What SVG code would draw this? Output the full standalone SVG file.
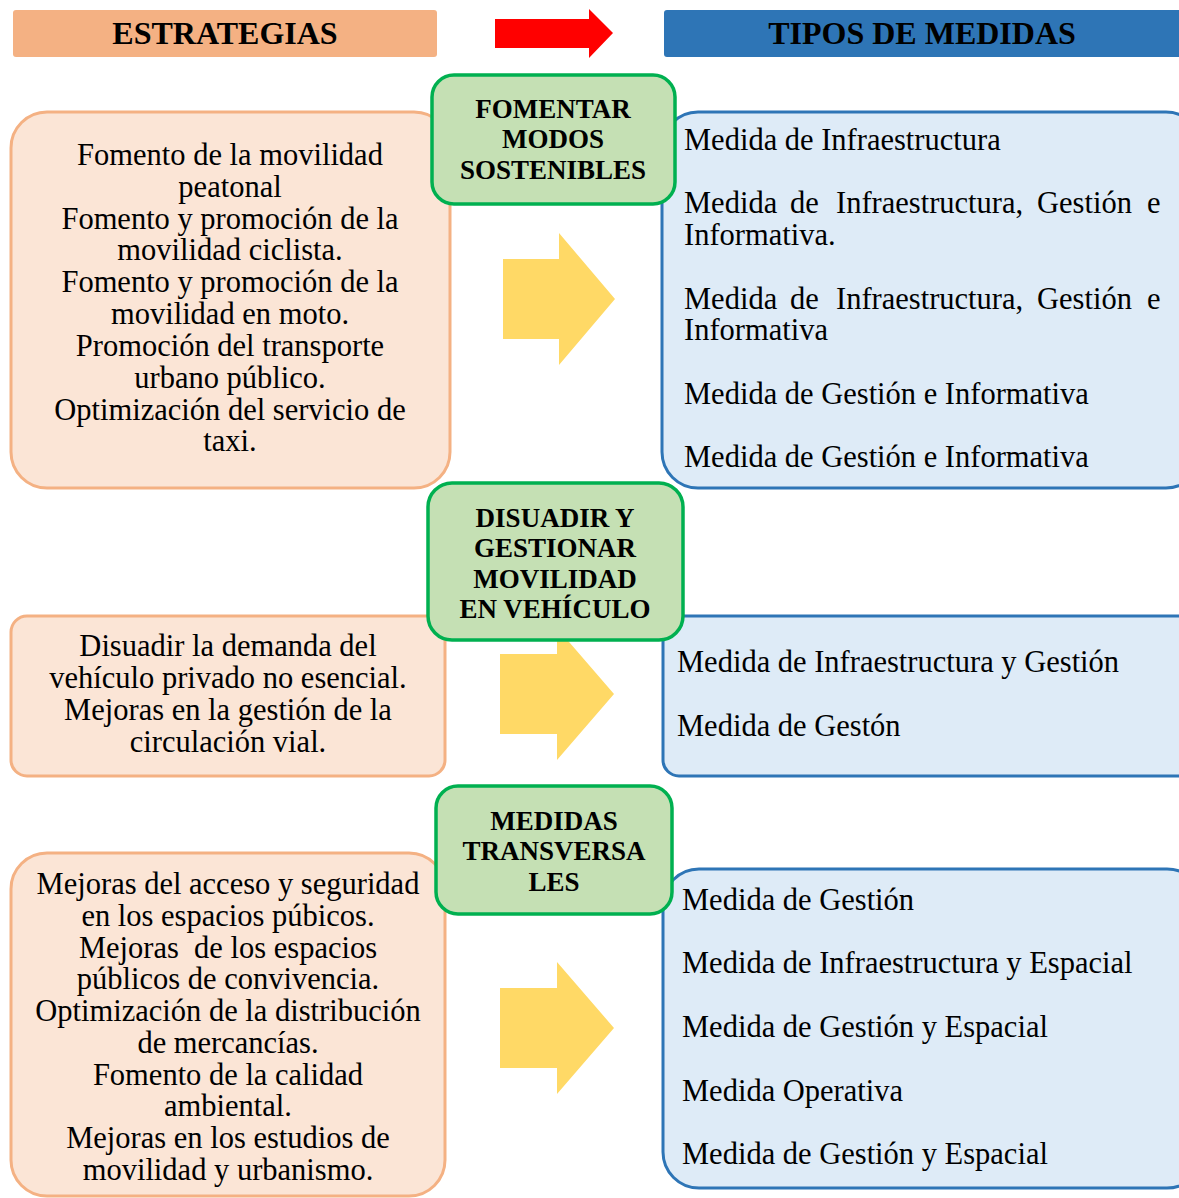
<svg xmlns="http://www.w3.org/2000/svg" width="1179" height="1198" viewBox="0 0 1179 1198">
<style>
.hdr{font-family:"Liberation Serif",serif;font-weight:bold;font-size:32px;fill:#000;text-anchor:middle}
.strat{fill:#FBE5D6;stroke:#F4B183;stroke-width:3}
.tipo{fill:#DEEBF7;stroke:#2E75B6;stroke-width:3}
.obj{fill:#C5E0B4;stroke:#00B050;stroke-width:3.5}
.lt{font-family:"Liberation Serif",serif;font-size:30.5px;fill:#000;text-anchor:middle}
.rt{font-family:"Liberation Serif",serif;font-size:30.5px;fill:#000}
.gt{font-family:"Liberation Serif",serif;font-weight:bold;font-size:27px;fill:#000;text-anchor:middle}
.yarrow{fill:#FFD966}
</style>
<rect width="1179" height="1198" fill="#FFFFFF"/>
<g id="header-estrategias">
<rect x="13" y="10" width="424" height="47" rx="3" fill="#F4B183"/>
<text class="hdr" x="225" y="44">ESTRATEGIAS</text>
</g>
<g id="header-tipos">
<rect x="664" y="10" width="520" height="47" rx="3" fill="#2E75B6"/>
<text class="hdr" x="922" y="44">TIPOS DE MEDIDAS</text>
</g>
<g id="connectors">
<polygon points="495,19 589,19 589,9 613,33 589,58 589,48 495,48" fill="#FF0000"/>
<polygon class="yarrow" points="503,259 559,259 559,233 615,299 559,365 559,339 503,339"/>
<polygon class="yarrow" points="500,654 557,654 557,628 614,694 557,760 557,734 500,734"/>
<polygon class="yarrow" points="500,988 557,988 557,962 614,1028 557,1094 557,1068 500,1068"/>
</g>
<g id="estrategia-1">
<rect class="strat" x="11" y="112" width="439" height="376" rx="36"/>
<text class="lt" x="230" y="165">Fomento de la movilidad</text>
<text class="lt" x="230" y="197">peatonal</text>
<text class="lt" x="230" y="229">Fomento y promoción de la</text>
<text class="lt" x="230" y="260">movilidad ciclista.</text>
<text class="lt" x="230" y="292">Fomento y promoción de la</text>
<text class="lt" x="230" y="324">movilidad en moto.</text>
<text class="lt" x="230" y="356">Promoción del transporte</text>
<text class="lt" x="230" y="388">urbano público.</text>
<text class="lt" x="230" y="420">Optimización del servicio de</text>
<text class="lt" x="230" y="451">taxi.</text>
</g>
<g id="tipos-1">
<rect class="tipo" x="662" y="112" width="540" height="376" rx="36"/>
<text class="rt" x="684" y="150">Medida de Infraestructura</text>
<text class="rt" y="213"><tspan x="684">Medida</tspan><tspan x="790">de</tspan><tspan x="836">Infraestructura,</tspan><tspan x="1037">Gestión</tspan><tspan x="1147">e</tspan></text>
<text class="rt" x="684" y="245">Informativa.</text>
<text class="rt" y="309"><tspan x="684">Medida</tspan><tspan x="790">de</tspan><tspan x="836">Infraestructura,</tspan><tspan x="1037">Gestión</tspan><tspan x="1147">e</tspan></text>
<text class="rt" x="684" y="340">Informativa</text>
<text class="rt" x="684" y="404">Medida de Gestión e Informativa</text>
<text class="rt" x="684" y="467">Medida de Gestión e Informativa</text>
</g>
<g id="estrategia-2">
<rect class="strat" x="11" y="616" width="434" height="160" rx="16"/>
<text class="lt" x="228" y="656">Disuadir la demanda del</text>
<text class="lt" x="228" y="688">vehículo privado no esencial.</text>
<text class="lt" x="228" y="720">Mejoras en la gestión de la</text>
<text class="lt" x="228" y="752">circulación vial.</text>
</g>
<g id="tipos-2">
<rect class="tipo" x="663" y="616" width="540" height="160" rx="16"/>
<text class="rt" x="677" y="672">Medida de Infraestructura y Gestión</text>
<text class="rt" x="677" y="736">Medida de Gestón</text>
</g>
<g id="estrategia-3">
<rect class="strat" x="11" y="853" width="434" height="343" rx="36"/>
<text class="lt" x="228" y="894">Mejoras del acceso y seguridad</text>
<text class="lt" x="228" y="926">en los espacios púbicos.</text>
<text class="lt" x="228" y="958" xml:space="preserve">Mejoras  de los espacios</text>
<text class="lt" x="228" y="989">públicos de convivencia.</text>
<text class="lt" x="228" y="1021">Optimización de la distribución</text>
<text class="lt" x="228" y="1053">de mercancías.</text>
<text class="lt" x="228" y="1085">Fomento de la calidad</text>
<text class="lt" x="228" y="1116">ambiental.</text>
<text class="lt" x="228" y="1148">Mejoras en los estudios de</text>
<text class="lt" x="228" y="1180">movilidad y urbanismo.</text>
</g>
<g id="tipos-3">
<rect class="tipo" x="663" y="869" width="540" height="319" rx="36"/>
<text class="rt" x="682" y="910">Medida de Gestión</text>
<text class="rt" x="682" y="973">Medida de Infraestructura y Espacial</text>
<text class="rt" x="682" y="1037">Medida de Gestión y Espacial</text>
<text class="rt" x="682" y="1101">Medida Operativa</text>
<text class="rt" x="682" y="1164">Medida de Gestión y Espacial</text>
</g>
<g id="objetivo-1">
<rect class="obj" x="432" y="75" width="243" height="129" rx="22"/>
<text class="gt" x="553" y="118">FOMENTAR</text>
<text class="gt" x="553" y="148">MODOS</text>
<text class="gt" x="553" y="179">SOSTENIBLES</text>
</g>
<g id="objetivo-2">
<rect class="obj" x="428" y="483" width="255" height="157" rx="24"/>
<text class="gt" x="555" y="527">DISUADIR Y</text>
<text class="gt" x="555" y="557">GESTIONAR</text>
<text class="gt" x="555" y="588">MOVILIDAD</text>
<text class="gt" x="555" y="618">EN VEHÍCULO</text>
</g>
<g id="objetivo-3">
<rect class="obj" x="436" y="786" width="236" height="128" rx="22"/>
<text class="gt" x="554" y="830">MEDIDAS</text>
<text class="gt" x="554" y="860">TRANSVERSA</text>
<text class="gt" x="554" y="891">LES</text>
</g>
</svg>
